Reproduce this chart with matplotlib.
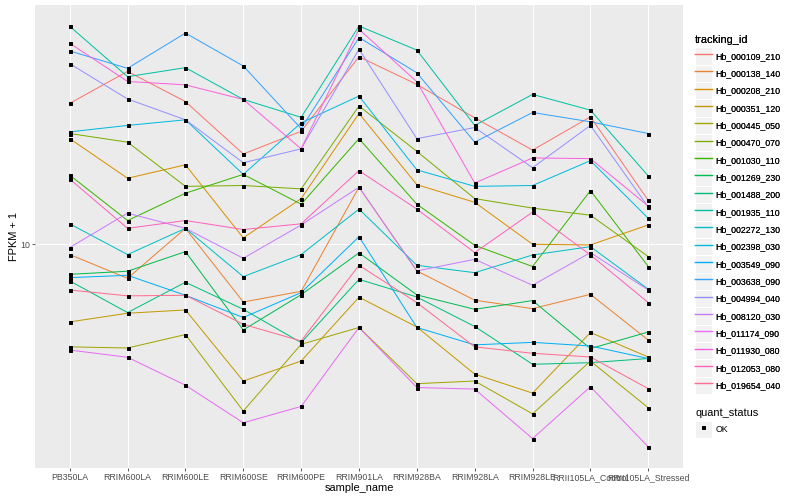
import numpy as np
import matplotlib.pyplot as plt
from matplotlib.lines import Line2D
from matplotlib.patches import Rectangle
from matplotlib.legend_handler import HandlerLine2D

plt.rcParams['font.family'] = ['Liberation Sans', 'DejaVu Sans']

samples = ['PB350LA', 'RRIM600LA', 'RRIM600LE', 'RRIM600SE', 'RRIM600PE', 'RRIM901LA',
           'RRIM928BA', 'RRIM928LA', 'RRIM928LE', 'RRII105LA_Control', 'RRII105LA_Stressed']

tracking_ids = ['Hb_000109_210', 'Hb_000138_140', 'Hb_000208_210', 'Hb_000351_120',
                'Hb_000445_050', 'Hb_000470_070', 'Hb_001030_110', 'Hb_001269_230',
                'Hb_001488_200', 'Hb_001935_110', 'Hb_002272_130', 'Hb_002398_030',
                'Hb_003549_090', 'Hb_003638_090', 'Hb_004994_040', 'Hb_008120_030',
                'Hb_011174_090', 'Hb_011930_080', 'Hb_012053_080', 'Hb_019654_040']

# FPKM + 1, one list per gene, in sample order
hb_000109_210 = [29.5, 37.7, 29.9, 20.0, 23.8, 42.2, 34.1, 26.4, 20.6, 26.6, 14.0]
hb_000138_140 = [9.24, 7.70, 11.3, 6.42, 6.97, 15.5, 8.15, 6.51, 6.10, 6.81, 4.79]
hb_000208_210 = [22.5, 16.6, 18.4, 10.5, 14.2, 27.3, 15.8, 13.8, 10.0, 9.95, 11.6]
hb_000351_120 = [5.51, 5.89, 6.04, 3.50, 4.08, 6.66, 5.30, 3.69, 3.19, 5.08, 4.21]
hb_000445_050 = [4.55, 4.51, 5.00, 2.78, 4.64, 5.28, 3.43, 3.50, 2.72, 4.08, 2.85]
hb_000470_070 = [23.4, 21.9, 15.6, 15.7, 15.3, 28.9, 20.4, 14.2, 13.2, 12.5, 9.10]
hb_001030_110 = [17.0, 12.0, 14.8, 17.1, 13.6, 22.5, 13.6, 9.92, 8.43, 15.1, 8.43]
hb_001269_230 = [7.94, 8.13, 9.45, 5.18, 6.79, 9.36, 6.78, 6.07, 6.49, 4.49, 5.10]
hb_001488_200 = [7.55, 5.92, 7.47, 6.07, 4.70, 7.64, 6.67, 5.32, 3.98, 4.03, 4.16]
hb_001935_110 = [53.3, 36.2, 38.8, 30.4, 26.5, 53.4, 44.4, 24.9, 31.6, 28.0, 16.9]
hb_002272_130 = [11.7, 9.24, 11.3, 7.80, 9.24, 13.1, 8.51, 8.04, 9.21, 9.82, 7.08]
hb_002398_030 = [23.7, 24.9, 26.0, 17.1, 25.4, 31.2, 17.7, 15.6, 15.7, 19.0, 12.2]
hb_003549_090 = [7.74, 7.88, 6.76, 5.70, 6.90, 10.6, 5.28, 4.62, 4.71, 4.58, 4.16]
hb_003638_090 = [44.1, 38.6, 50.6, 39.3, 24.3, 48.9, 37.3, 21.9, 27.5, 25.6, 23.4]
hb_004994_040 = [40.0, 30.5, 26.0, 18.7, 20.8, 44.7, 22.5, 24.5, 18.0, 24.9, 13.3]
hb_008120_030 = [9.75, 12.7, 11.3, 8.98, 11.6, 15.5, 8.15, 8.91, 7.30, 9.38, 7.04]
hb_011174_090 = [4.44, 4.20, 3.39, 2.54, 2.88, 5.28, 3.33, 3.29, 2.25, 3.35, 2.11]
hb_011930_080 = [46.8, 34.9, 34.0, 30.4, 20.8, 52.1, 34.8, 16.0, 19.4, 19.3, 13.4]
hb_012053_080 = [16.5, 11.3, 12.0, 11.2, 11.7, 17.6, 13.1, 9.38, 12.8, 9.21, 6.39]
hb_019654_040 = [7.04, 6.73, 6.76, 5.41, 4.76, 8.51, 6.39, 4.55, 4.33, 4.21, 3.30]

series = [hb_000109_210, hb_000138_140, hb_000208_210, hb_000351_120, hb_000445_050,
          hb_000470_070, hb_001030_110, hb_001269_230, hb_001488_200, hb_001935_110,
          hb_002272_130, hb_002398_030, hb_003549_090, hb_003638_090, hb_004994_040,
          hb_008120_030, hb_011174_090, hb_011930_080, hb_012053_080, hb_019654_040]

quant_status = ['OK']

# ggplot default hue palette for 20 levels
colors = ['#F8766D', '#EA8331', '#D89000', '#C09B00', '#A3A500', '#7CAE00', '#39B600',
          '#00BB4E', '#00BF7D', '#00C1A3', '#00BFC4', '#00BAE0', '#00B0F6', '#35A2FF',
          '#9590FF', '#C77CFF', '#E76BF3', '#FA62DB', '#FF62BC', '#FF6C91']


class KeyHandler(HandlerLine2D):
    # grey key box behind each legend entry, like ggplot
    def create_artists(self, legend, orig_handle, xdescent, ydescent, width, height, fontsize, trans):
        bg = Rectangle((-xdescent, -ydescent - 1.6), width, height + 3.2, facecolor='#F2F2F2',
                       edgecolor='white', lw=1, transform=trans, zorder=0)
        arts = super().create_artists(legend, orig_handle, xdescent, ydescent, width, height, fontsize, trans)
        for a in arts:
            if a.get_linestyle() not in ('None', 'none', ''):
                a.set_linewidth(1.4)
        return [bg] + arts


fig = plt.figure(figsize=(800 / 72, 500 / 72), dpi=72)
ax = fig.add_axes([35 / 800, 1 - 468 / 500, (683 - 35) / 800, (468 - 5) / 500])
ax.set_facecolor('#EBEBEB')

x = np.arange(1, len(samples) + 1)
handles = []
for name, vals, col in zip(tracking_ids, series, colors):
    h, = ax.plot(x, vals, color=col, lw=1.0, zorder=2)
    handles.append(h)
for vals in series:
    ax.plot(x, vals, 's', color='black', ms=3.0, zorder=3)

ax.set_yscale('log')
lo = np.log10(min(min(s) for s in series))
hi = np.log10(max(max(s) for s in series))
pad = 0.05 * (hi - lo)
ax.set_ylim(10 ** (lo - pad), 10 ** (hi + pad))
ax.set_xlim(0.4, len(samples) + 0.6)
ax.minorticks_off()
ax.set_yticks([10])
ax.set_yticklabels(['10'])
ax.set_xticks(x)
ax.set_xticklabels(samples)

ax.grid(True, color='white', lw=1.0)
ax.set_axisbelow(True)
for s in ax.spines.values():
    s.set_visible(False)
ax.tick_params(length=2.75, width=0.8, color='#333333', labelcolor='#4D4D4D', labelsize=8.8, pad=2.2)

ax.set_xlabel('sample_name', fontsize=11, labelpad=1.5)
ax.set_ylabel('FPKM + 1', fontsize=11, labelpad=1)

leg1 = fig.legend(handles, tracking_ids, loc='upper left', bbox_to_anchor=(695 / 800, 1 - 35 / 500),
                  frameon=False, title='tracking_id', title_fontsize=11, fontsize=8.8,
                  handlelength=1.9, handleheight=2.1, labelspacing=0.36, handletextpad=0.45,
                  borderpad=0, borderaxespad=0, alignment='left',
                  handler_map={Line2D: KeyHandler()})
leg1._legend_box.sep = 4
fig.add_artist(leg1)

ok = Line2D([], [], marker='s', color='black', linestyle='none', ms=3.0)
leg2 = fig.legend([ok], quant_status, loc='upper left', bbox_to_anchor=(695 / 800, 1 - 408 / 500),
                  frameon=False, title='quant_status', title_fontsize=11, fontsize=8.8,
                  handlelength=1.9, handleheight=2.1, handletextpad=0.45,
                  borderpad=0, borderaxespad=0, alignment='left',
                  handler_map={Line2D: KeyHandler()})

fig.savefig('out.png', dpi=72)
